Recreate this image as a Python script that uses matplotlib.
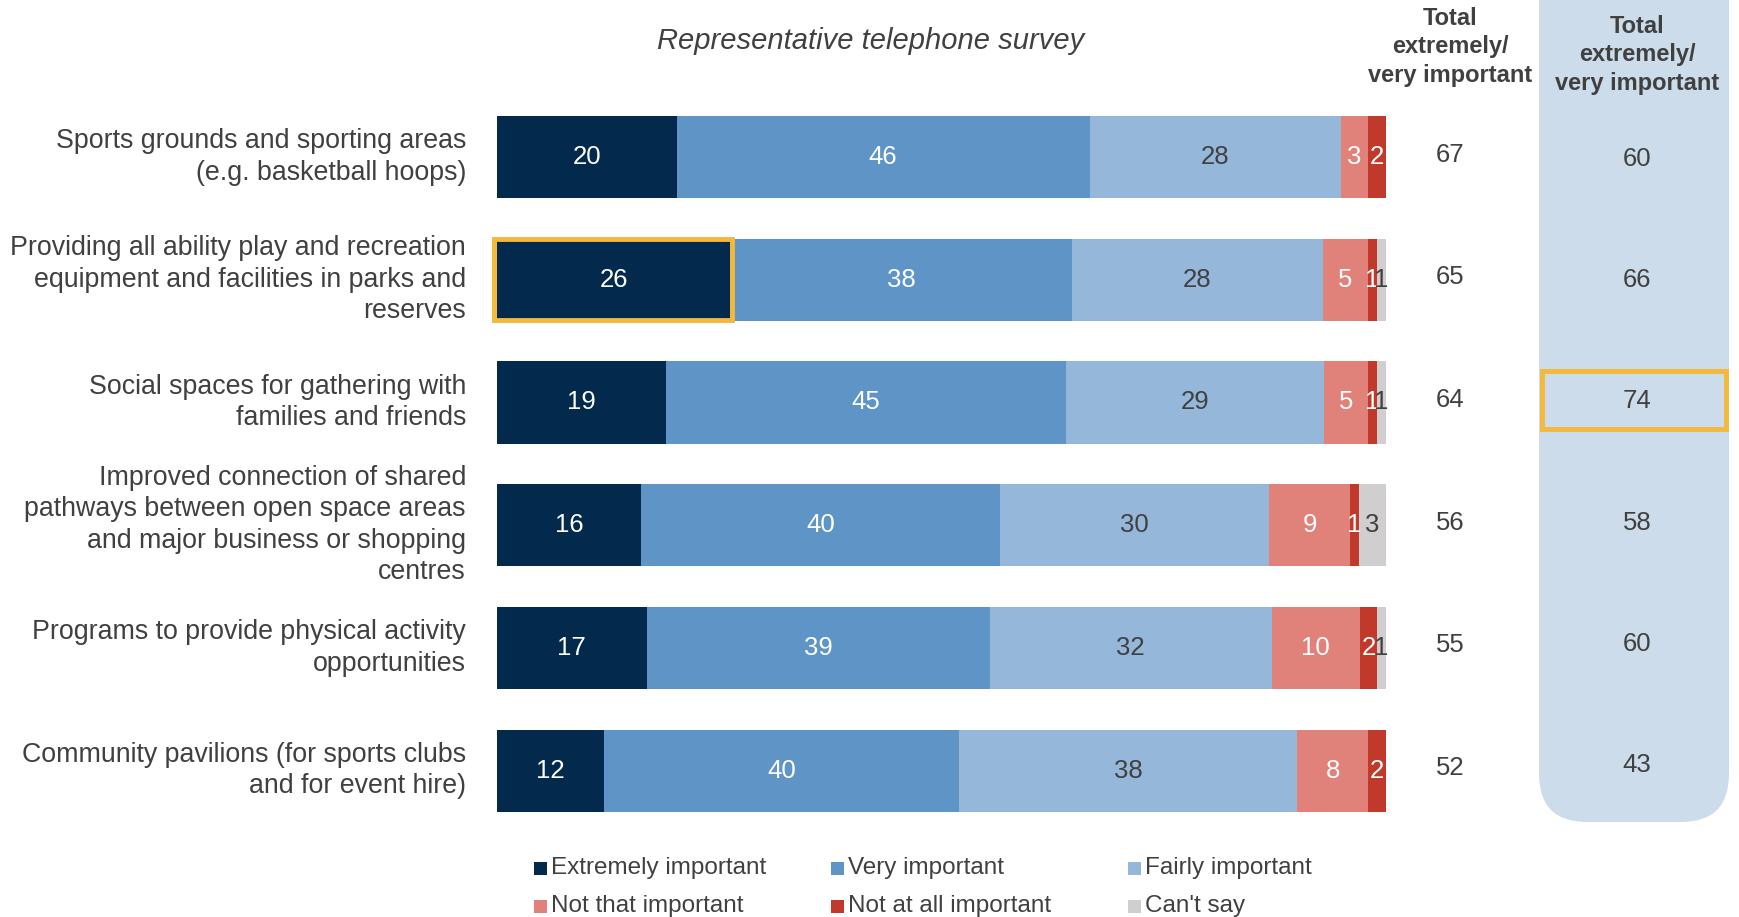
import matplotlib
matplotlib.use("Agg")
import matplotlib.pyplot as plt
import numpy as np
from matplotlib.patches import FancyBboxPatch, Rectangle
from matplotlib.transforms import blended_transform_factory

plt.rcParams['font.family'] = ['Liberation Sans', 'DejaVu Sans']

categories = [
    "Sports grounds and sporting areas\n(e.g. basketball hoops)",
    "Providing all ability play and recreation\nequipment and facilities in parks and\nreserves",
    "Social spaces for gathering with\nfamilies and friends",
    "Improved connection of shared\npathways between open space areas\nand major business or shopping\ncentres",
    "Programs to provide physical activity\nopportunities",
    "Community pavilions (for sports clubs\nand for event hire)",
]
series_names = ["Extremely important", "Very important", "Fairly important",
                "Not that important", "Not at all important", "Can't say"]
extremely = [20, 26, 19, 16, 17, 12]
very = [46, 38, 45, 40, 39, 40]
fairly = [28, 28, 29, 30, 32, 38]
not_that = [3, 5, 5, 9, 10, 8]
not_at_all = [2, 1, 1, 1, 2, 2]
cant_say = [0, 1, 1, 3, 1, 0]
total_phone = [67, 65, 64, 56, 55, 52]
total_other = [60, 66, 74, 58, 60, 43]

colors = ["#03294d", "#5e95c6", "#94b7da", "#e0827a", "#c0392b", "#d0cecf"]
txt_colors = ["white", "white", "#404040", "white", "white", "#404040"]
highlight = "#f4b83a"
grey = "#404040"

W, H = 1740, 917
fig = plt.figure(figsize=(W / 100, H / 100), dpi=100)

# pixel-space overlay for decorations
bg = fig.add_axes([0, 0, 1, 1], zorder=0)
bg.set_xlim(0, W)
bg.set_ylim(H, 0)
bg.axis("off")
bg.add_patch(FancyBboxPatch((1539, -80), 190, 902,
                            boxstyle="round,pad=0,rounding_size=48",
                            facecolor="#ccdcea", edgecolor="none"))

# main bar axes
x0, x1 = 497, 1386
ytop, ybot = 95.6, 832
ax = fig.add_axes([x0 / W, 1 - ybot / H, (x1 - x0) / W, (ybot - ytop) / H], zorder=2)
ax.set_xlim(0, 100)
ax.set_ylim(len(categories) - 0.5, -0.5)
ax.axis("off")

data = np.array([extremely, very, fairly, not_that, not_at_all, cant_say], dtype=float)
norm = data / data.sum(axis=0) * 100
ypos = np.arange(len(categories))
left = np.zeros(len(categories))
for i in range(len(series_names)):
    ax.barh(ypos, norm[i], left=left, height=0.67, color=colors[i], edgecolor="none")
    for j in range(len(categories)):
        v = data[i, j]
        if v > 0:
            ax.text(left[j] + norm[i, j] / 2, ypos[j], f"{int(v)}", ha="center", va="center",
                    fontsize=18.5, color=txt_colors[i])
    left += norm[i]

# highlight on second bar's first segment
ax.add_patch(Rectangle((-0.3, 1 - 0.33), norm[0, 1] + 0.45, 0.66, fill=False,
                       edgecolor=highlight, linewidth=3.5, clip_on=False, zorder=5))

# category labels
tr_lab = blended_transform_factory(fig.transFigure, ax.transData)
for j, c in enumerate(categories):
    ax.text(466 / W, j, c, transform=tr_lab, ha="right", va="center", fontsize=19.3,
            color=grey, linespacing=1.27)

# total column
for j, t in enumerate(total_phone):
    ax.text(1450 / W, j - 0.02, f"{t}", transform=tr_lab, ha="center", va="center",
            fontsize=18.5, color=grey)

# right panel values
ry = np.linspace(159, 765, len(total_other))
for j, t in enumerate(total_other):
    bg.text(1637, ry[j], f"{t}", ha="center", va="center", fontsize=18.5, color=grey)
bg.add_patch(Rectangle((1542, 371), 184, 58, fill=False, edgecolor=highlight, linewidth=3.5))

# headers
bg.text(1450, 47, "Total\nextremely/\nvery important", ha="center", va="center",
        fontsize=17, fontweight="bold", color=grey, linespacing=1.33)
bg.text(1637, 55, "Total\nextremely/\nvery important", ha="center", va="center",
        fontsize=17, fontweight="bold", color=grey, linespacing=1.33)
bg.text(871, 41, "Representative telephone survey", ha="center", va="center",
        fontsize=21, fontstyle="italic", color=grey)

# legend
leg_x = [534, 831, 1128]
leg_y = [868, 906]
for i, name in enumerate(series_names):
    cx = leg_x[i % 3]
    cy = leg_y[i // 3]
    bg.add_patch(Rectangle((cx, cy - 6), 13, 13, facecolor=colors[i], edgecolor="none"))
    bg.text(cx + 17, cy, name, ha="left", va="center", fontsize=17.5, color=grey)

fig.savefig("out.png", dpi=100)
